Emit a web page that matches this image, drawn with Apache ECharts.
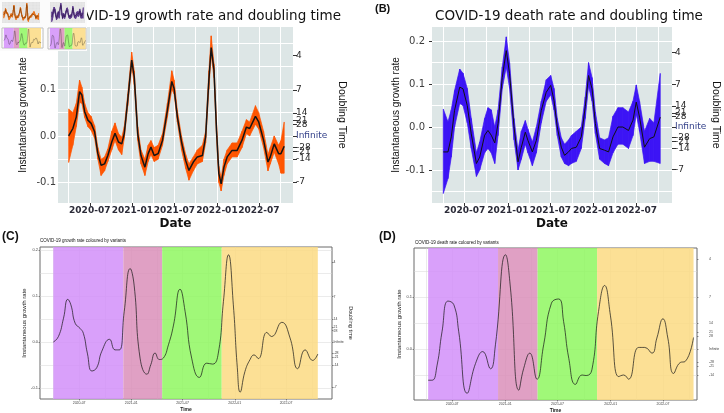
<!DOCTYPE html>
<html>
<head>
<meta charset="utf-8">
<script src="https://cdn.jsdelivr.net/npm/echarts@6/dist/echarts.min.js"></script>
<style>
  html, body { margin: 0; padding: 0; background: #fff; }
  #chart { width: 724px; height: 413px; }
</style>
</head>
<body>
<div id="chart"></div>
<script>
"use strict";

// ---------- growth rate (panel A): centre line and ribbon ----------
const growthDates = [
  "2020-04-01", "2020-04-19", "2020-05-04", "2020-05-18", "2020-05-28", "2020-06-09", "2020-06-23", "2020-07-07",
  "2020-07-22", "2020-08-05", "2020-08-19", "2020-09-03", "2020-09-17", "2020-10-04", "2020-10-18", "2020-11-02",
  "2020-11-16", "2020-11-27", "2020-12-12", "2020-12-29", "2021-01-09", "2021-01-24", "2021-02-07", "2021-02-24",
  "2021-03-10", "2021-03-22", "2021-04-05", "2021-04-22", "2021-05-11", "2021-06-01", "2021-06-20", "2021-06-30",
  "2021-07-14", "2021-08-01", "2021-08-19", "2021-09-02", "2021-09-21", "2021-10-08", "2021-10-30", "2021-11-13",
  "2021-11-27", "2021-12-07", "2021-12-19", "2021-12-30", "2022-01-09", "2022-01-19", "2022-01-31", "2022-02-14",
  "2022-03-07", "2022-03-29", "2022-04-19", "2022-05-08", "2022-05-22", "2022-06-16", "2022-06-30", "2022-07-21",
  "2022-08-09", "2022-08-19", "2022-09-05", "2022-09-24", "2022-10-04", "2022-10-18"
];
const growthMid = [
  0.000, 0.016, 0.041, 0.095, 0.088, 0.052, 0.034, 0.027, 0.009, -0.038,
  -0.063, -0.060, -0.042, -0.013, 0.006, -0.013, -0.017, 0.005, 0.077, 0.163,
  0.127, 0.005, -0.042, -0.067, -0.038, -0.024, -0.042, -0.038, -0.009, 0.055,
  0.117, 0.102, 0.041, -0.013, -0.053, -0.074, -0.056, -0.045, -0.042, -0.002,
  0.120, 0.190, 0.142, 0.012, -0.081, -0.103, -0.067, -0.045, -0.031, -0.031,
  -0.009, 0.019, 0.016, 0.042, 0.030, -0.009, -0.056, -0.045, -0.017, -0.038,
  -0.038, -0.022
];
const growthLow = [
  -0.057, -0.020, 0.020, 0.072, 0.070, 0.040, 0.020, 0.012, -0.005, -0.050,
  -0.085, -0.075, -0.055, -0.030, -0.010, -0.030, -0.040, -0.005, 0.065, 0.150,
  0.110, -0.010, -0.060, -0.085, -0.055, -0.040, -0.055, -0.050, -0.020, 0.040,
  0.100, 0.090, 0.030, -0.030, -0.070, -0.095, -0.075, -0.060, -0.055, -0.015,
  0.100, 0.175, 0.125, -0.005, -0.100, -0.118, -0.085, -0.060, -0.045, -0.045,
  -0.025, 0.005, 0.000, 0.025, 0.015, -0.025, -0.075, -0.060, -0.035, -0.060,
  -0.080, -0.080
];
const growthHigh = [
  0.058, 0.050, 0.070, 0.120, 0.105, 0.070, 0.050, 0.042, 0.022, -0.025,
  -0.050, -0.045, -0.028, 0.010, 0.028, 0.005, -0.003, 0.020, 0.090, 0.180,
  0.140, 0.020, -0.030, -0.050, -0.020, -0.010, -0.025, -0.020, 0.005, 0.070,
  0.140, 0.120, 0.055, 0.000, -0.040, -0.060, -0.045, -0.030, -0.020, 0.010,
  0.140, 0.215, 0.155, 0.030, -0.065, -0.090, -0.050, -0.030, -0.015, -0.015,
  0.010, 0.035, 0.030, 0.065, 0.050, 0.010, -0.040, -0.025, 0.000, -0.020,
  -0.010, 0.030
];

// ---------- death rate (panel B) ----------
const deathDates = [
  "2020-04-01", "2020-04-21", "2020-05-05", "2020-05-19", "2020-06-10", "2020-06-24", "2020-07-12", "2020-07-29",
  "2020-08-20", "2020-09-03", "2020-09-24", "2020-10-08", "2020-10-22", "2020-11-06", "2020-11-20", "2020-12-08",
  "2020-12-25", "2021-01-08", "2021-01-27", "2021-02-13", "2021-02-27", "2021-03-16", "2021-03-27", "2021-04-15",
  "2021-05-02", "2021-05-23", "2021-06-13", "2021-07-02", "2021-07-16", "2021-07-30", "2021-08-16", "2021-08-30",
  "2021-09-16", "2021-09-28", "2021-10-19", "2021-11-09", "2021-11-26", "2021-12-10", "2021-12-25", "2022-01-08",
  "2022-01-26", "2022-02-16", "2022-03-05", "2022-03-24", "2022-04-14", "2022-05-05", "2022-05-29", "2022-06-17",
  "2022-07-01", "2022-07-15", "2022-08-05", "2022-08-27", "2022-09-14", "2022-10-11"
];
const deathMid = [
  -0.058, -0.058, -0.023, 0.039, 0.093, 0.089, 0.050, -0.016, -0.085, -0.070,
  -0.019, -0.008, -0.019, -0.037, 0.008, 0.116, 0.178, 0.124, 0.000, -0.081,
  -0.047, -0.012, -0.031, -0.058, -0.031, 0.039, 0.081, 0.097, 0.062, 0.000,
  -0.047, -0.066, -0.058, -0.050, -0.047, -0.023, 0.047, 0.120, 0.089, 0.008,
  -0.050, -0.054, -0.058, -0.023, 0.000, 0.000, -0.008, 0.016, 0.058, 0.023,
  -0.047, -0.027, -0.023, 0.023
];
const deathLow = [
  -0.155, -0.120, -0.070, 0.000, 0.055, 0.050, 0.010, -0.050, -0.115, -0.100,
  -0.060, -0.050, -0.060, -0.085, -0.020, 0.090, 0.140, 0.090, -0.030, -0.100,
  -0.075, -0.040, -0.060, -0.090, -0.060, 0.010, 0.060, 0.075, 0.040, -0.020,
  -0.070, -0.085, -0.090, -0.085, -0.080, -0.050, 0.020, 0.095, 0.060, -0.015,
  -0.075, -0.085, -0.090, -0.060, -0.040, -0.040, -0.050, -0.020, 0.030, -0.010,
  -0.085, -0.080, -0.080, -0.085
];
const deathHigh = [
  0.042, 0.012, 0.040, 0.085, 0.135, 0.125, 0.090, 0.020, -0.060, -0.035,
  0.020, 0.045, 0.040, 0.000, 0.040, 0.140, 0.210, 0.150, 0.020, -0.055,
  -0.010, 0.015, -0.005, -0.035, 0.000, 0.060, 0.110, 0.120, 0.090, 0.020,
  -0.025, -0.040, -0.030, -0.020, -0.010, 0.000, 0.070, 0.150, 0.115, 0.035,
  -0.025, -0.030, -0.025, 0.025, 0.045, 0.045, 0.035, 0.060, 0.098, 0.060,
  -0.010, 0.020, 0.010, 0.125
];

// ---------- smoothed curves (panels C and D) ----------
const growthSmoothDates = [
  "2020-04-01", "2020-04-19", "2020-05-07", "2020-05-22", "2020-06-02", "2020-06-17", "2020-07-04", "2020-07-16",
  "2020-07-30", "2020-08-15", "2020-09-01", "2020-09-19", "2020-10-16", "2020-11-05", "2020-11-20", "2020-12-07",
  "2020-12-28", "2021-01-11", "2021-02-01", "2021-02-25", "2021-03-11", "2021-03-26", "2021-04-10", "2021-04-24",
  "2021-05-12", "2021-05-30", "2021-06-22", "2021-07-10", "2021-08-02", "2021-08-29", "2021-09-24", "2021-10-15",
  "2021-11-04", "2021-11-22", "2021-12-10", "2021-12-27", "2022-01-10", "2022-01-20", "2022-02-06", "2022-02-24",
  "2022-03-10", "2022-03-25", "2022-04-24", "2022-05-11", "2022-06-16", "2022-07-15", "2022-08-11", "2022-09-06",
  "2022-10-03", "2022-10-21"
];
const growthSmooth = [
  0.000, 0.012, 0.052, 0.093, 0.081, 0.041, 0.030, 0.019, -0.024, -0.063,
  -0.056, -0.020, 0.006, -0.017, -0.017, 0.066, 0.160, 0.124, -0.035, -0.070,
  -0.049, -0.024, -0.038, -0.035, -0.006, 0.037, 0.115, 0.066, -0.035, -0.077,
  -0.046, -0.048, -0.024, 0.088, 0.190, 0.081, -0.056, -0.109, -0.064, -0.038,
  -0.028, -0.036, 0.021, 0.012, 0.043, 0.009, -0.058, -0.017, -0.040, -0.026
];
const deathSmoothDates = [
  "2020-04-09", "2020-04-23", "2020-05-10", "2020-05-27", "2020-06-17", "2020-07-07", "2020-07-24", "2020-08-22",
  "2020-09-20", "2020-10-15", "2020-11-11", "2020-11-28", "2021-01-02", "2021-01-19", "2021-02-17", "2021-03-06",
  "2021-03-27", "2021-04-21", "2021-05-14", "2021-06-10", "2021-07-05", "2021-07-22", "2021-08-09", "2021-09-01",
  "2021-09-24", "2021-10-08", "2021-10-28", "2021-11-20", "2021-12-11", "2021-12-31", "2022-01-29", "2022-02-15",
  "2022-03-04", "2022-04-08", "2022-04-29", "2022-05-24", "2022-06-10", "2022-07-01", "2022-07-18", "2022-08-07",
  "2022-08-30", "2022-09-16", "2022-10-15"
];
const deathSmooth = [
  -0.060, -0.060, -0.031, 0.033, 0.092, 0.085, 0.033, -0.085, -0.028, -0.005,
  -0.038, 0.008, 0.181, 0.117, -0.079, -0.037, -0.008, -0.058, 0.008, 0.088,
  0.096, 0.053, -0.018, -0.068, -0.050, -0.051, -0.040, 0.072, 0.122, 0.065,
  -0.053, -0.050, -0.058, 0.003, 0.003, -0.008, 0.021, 0.058, 0.021, -0.047,
  -0.026, -0.024, 0.022
];

// variant periods: wild type, Alpha, Delta, Omicron
const variantNames = ["Wild type", "Alpha", "Delta", "Omicron"];
const growthVariantEdges = ["2020-04-01", "2020-12-04", "2021-04-20", "2021-11-16", "2022-10-21"];
const deathVariantEdges = ["2020-04-09", "2020-12-07", "2021-04-23", "2021-11-15", "2022-10-15"];

// axis ticks
const dateTicks = ["2020-07-01", "2021-01-01", "2021-07-01", "2022-01-01", "2022-07-01"];
const quarterTicks = [
  "2020-01-01", "2020-04-01", "2020-07-01", "2020-10-01", "2021-01-01", "2021-04-01", "2021-07-01",
  "2021-10-01", "2022-01-01", "2022-04-01", "2022-07-01", "2022-10-01", "2023-01-01"
];
const rateTicks = [-0.1, 0, 0.1, 0.2];
const rateGridTicks = [-0.15, -0.1, -0.05, 0, 0.05, 0.1, 0.15, 0.2];
const doublingTicks = [4, 7, 14, 21, 28, "Infinite", -28, -21, -14, -7];

// colours
const variantColors = ["#d28ff9", "#da8fba", "#8ff760", "#fbda83"];
const growthRibbon = "#ff5500";
const deathRibbon = "#3c14f5";

// ---------- helpers ----------
function day(s) {
  const p = s.split("-").map(Number);
  return new Date(p[0], p[1] - 1, p[2]).getTime();
}
function pairs(dates, vals) {
  return dates.map((d, i) => [day(d), vals[i]]);
}
function ym(v) {
  const d = new Date(v);
  return d.getFullYear() + "-" + String(d.getMonth() + 1).padStart(2, "0");
}
// doubling time T sits at growth rate ln2 / T on the shared scale
function doublingPos(t) {
  return typeof t === "number" ? Math.LN2 / t : 0;
}
function doublingLabel(v) {
  for (const t of doublingTicks) {
    if (Math.abs(doublingPos(t) - v) < 1e-9) return t === "Infinite" ? "{inf|Infinite}" : String(t);
  }
  return "";
}

const DEJA = "DejaVu Sans";
const LIB = "Liberation Sans";

const grids = [], xAxes = [], yAxes = [], series = [];

function addPanel(p) {
  const gi = grids.length;
  const xmin = day(p.xRange[0]), xmax = day(p.xRange[1]);
  const ymin = p.yRange[0], ymax = p.yRange[1];
  const inX = list => list.map(day).filter(v => v >= xmin && v <= xmax);
  const inY = list => list.filter(v => v >= ymin - 1e-9 && v <= ymax + 1e-9);
  const s = p.style;
  const z = p.z || 0;

  grids.push({
    left: p.box[0], top: p.box[1], width: p.box[2], height: p.box[3],
    show: true, backgroundColor: p.bg,
    borderWidth: p.frame ? 1 : 0, borderColor: p.frame || "transparent",
    z: z, outerBoundsMode: "none"
  });

  // dates are kept as timestamps on a value axis
  const xi = xAxes.length;
  xAxes.push({
    type: "value", gridIndex: gi, min: xmin, max: xmax, position: "bottom", z: z,
    axisLine: { show: false, onZero: false },
    axisTick: {
      show: !!s, customValues: inX(dateTicks), length: s ? s.xTick : 0,
      lineStyle: { color: "#333", width: s ? s.tickW : 1 }
    },
    axisLabel: s ? Object.assign({ customValues: inX(dateTicks), formatter: ym, margin: s.xMargin }, s.xLabel) : { show: false },
    splitLine: { show: false },
    name: s ? s.xName : "", nameLocation: "middle", nameGap: s ? s.xNameGap : 0,
    nameTextStyle: s ? s.xNameStyle : {}
  });
  // second x axis only carries the vertical grid lines
  xAxes.push({
    type: "value", gridIndex: gi, min: xmin, max: xmax, position: "top", z: z,
    axisLine: { show: false, onZero: false },
    axisTick: { show: false, customValues: inX(quarterTicks) },
    axisLabel: { show: false },
    splitLine: { show: true, lineStyle: { color: p.gridColor, width: p.gridWidth } }
  });

  const yi = yAxes.length;
  yAxes.push({
    type: "value", gridIndex: gi, min: ymin, max: ymax, position: "left", z: z,
    axisLine: { show: false, onZero: false },
    axisTick: {
      show: !!(s && s.yTick), customValues: inY(rateTicks), length: s ? s.yTick : 0,
      lineStyle: { color: "#333", width: s ? s.tickW : 1 }
    },
    axisLabel: s ? Object.assign({
      customValues: inY(rateTicks), formatter: v => v.toFixed(1), margin: s.yMargin
    }, s.yLabel) : { show: false },
    splitLine: { show: false },
    name: s ? "Instantaneous growth rate" : "", nameLocation: "middle", nameGap: s ? s.yNameGap : 0,
    nameTextStyle: s ? s.yNameStyle : {}
  });
  yAxes.push({
    type: "value", gridIndex: gi, min: ymin, max: ymax, position: "right", z: z,
    axisLine: { show: false, onZero: false },
    axisTick: {
      show: !!s, customValues: inY(doublingTicks.map(doublingPos)), length: s ? s.rTick : 0,
      lineStyle: { color: "#333", width: s ? s.tickW : 1 }
    },
    axisLabel: s ? Object.assign({
      customValues: inY(doublingTicks.map(doublingPos)), formatter: doublingLabel, margin: s.rMargin
    }, s.rLabel) : { show: false },
    splitLine: { show: false },
    name: s ? s.rName : "", nameLocation: "middle", nameRotate: -90, nameGap: s ? s.rNameGap : 0,
    nameTextStyle: s ? s.rNameStyle : {}
  });
  // third y axis only carries the horizontal grid lines
  yAxes.push({
    type: "value", gridIndex: gi, min: ymin, max: ymax, position: "left", z: z,
    axisLine: { show: false, onZero: false },
    axisTick: { show: false, customValues: inY(rateGridTicks) },
    axisLabel: { show: false },
    splitLine: { show: true, lineStyle: { color: p.gridColor, width: p.gridWidth } }
  });
  return { xi: xi, yi: yi, z: z };
}

// ribbon between the lower and upper bound, drawn piece by piece with the axes' coord()
function addRibbon(ax, dates, lo, hi, mid, fill, lineColor, lineW) {
  const pts = dates.map((d, i) => [day(d), lo[i], hi[i]]);
  series.push({
    type: "custom", xAxisIndex: ax.xi, yAxisIndex: ax.yi, z: ax.z + 2, silent: true,
    data: pts, encode: { x: 0, y: [1, 2] },
    renderItem: function (params, api) {
      const i = params.dataIndex;
      if (i >= pts.length - 1) return null;
      const a = pts[i], b = pts[i + 1];
      return {
        type: "polygon",
        shape: { points: [api.coord([a[0], a[1]]), api.coord([b[0], b[1]]), api.coord([b[0], b[2]]), api.coord([a[0], a[2]])] },
        style: { fill: fill, stroke: fill, lineWidth: 0.7 }
      };
    }
  });
  series.push({
    type: "line", xAxisIndex: ax.xi, yAxisIndex: ax.yi, z: ax.z + 3, symbol: "none", silent: true,
    data: pairs(dates, mid), lineStyle: { color: lineColor, width: lineW }
  });
}

function addVariants(ax, dates, vals, edges, lineW) {
  const base = { type: "line", xAxisIndex: ax.xi, yAxisIndex: ax.yi, symbol: "none", silent: true };
  series.push(Object.assign({}, base, {
    z: ax.z + 1, data: pairs(dates, vals), lineStyle: { opacity: 0 },
    markArea: {
      silent: true, z: ax.z + 1,
      data: variantNames.map((n, i) => [
        { name: "", xAxis: day(edges[i]), itemStyle: { color: variantColors[i], opacity: 0.85 } },
        { xAxis: day(edges[i + 1]) }
      ])
    }
  }));
  series.push(Object.assign({}, base, {
    z: ax.z + 3, smooth: true, data: pairs(dates, vals),
    lineStyle: { color: "rgba(25,25,25,0.8)", width: lineW }
  }));
}

// ---------- styles ----------
function bigStyle(yMargin, yTick, yNameGap, rNameGap) {
  return {
    tickW: 1, xTick: 3, yTick: yTick, rTick: 4,
    xMargin: 3, yMargin: yMargin, rMargin: 3,
    xLabel: { fontFamily: DEJA, fontSize: 9, fontWeight: "bold", color: "#2b2b38" },
    yLabel: { fontFamily: DEJA, fontSize: 10, color: "#3d3d3d" },
    rLabel: {
      fontFamily: DEJA, fontSize: 9, color: "#2b2b2b",
      rich: { inf: { fontFamily: DEJA, fontSize: 9, color: "#34418a" } }
    },
    xName: "Date", xNameGap: 15,
    xNameStyle: { fontFamily: DEJA, fontSize: 12, fontWeight: "bold", color: "#111" },
    yNameGap: yNameGap, yNameStyle: { fontFamily: LIB, fontSize: 10, color: "#111" },
    rName: "Doubling Time", rNameGap: rNameGap,
    rNameStyle: { fontFamily: LIB, fontSize: 10.5, color: "#111" }
  };
}
function smallStyle(yNameGap, rMargin, rNameGap) {
  return {
    tickW: 0.5, xTick: 1.5, yTick: 1.5, rTick: 1.5,
    xMargin: 2.5, yMargin: 2, rMargin: rMargin,
    xLabel: { fontFamily: LIB, fontSize: 3.5, color: "#444" },
    yLabel: { fontFamily: LIB, fontSize: 4, color: "#444" },
    rLabel: {
      fontFamily: LIB, fontSize: 3.5, color: "#444",
      rich: { inf: { fontFamily: LIB, fontSize: 3.5, color: "#444" } }
    },
    xName: "Time", xNameGap: 8,
    xNameStyle: { fontFamily: LIB, fontSize: 5, fontWeight: "bold", color: "#222" },
    yNameGap: yNameGap, yNameStyle: { fontFamily: LIB, fontSize: 6, color: "#222" },
    rName: "Doubling time", rNameGap: rNameGap,
    rNameStyle: { fontFamily: LIB, fontSize: 5.5, color: "#222" }
  };
}

// ---------- panels ----------
const axA = addPanel({
  box: [58, 27, 235, 176], xRange: ["2020-02-15", "2022-11-25"], yRange: [-0.144, 0.234],
  bg: "#dde6e6", gridColor: "#ffffff", gridWidth: 1, style: bigStyle(2, 0, 30, 43)
});
addRibbon(axA, growthDates, growthLow, growthHigh, growthMid, growthRibbon, "#151515", 1.5);

const axB = addPanel({
  box: [432, 27, 240, 176], xRange: ["2020-02-13", "2022-11-30"], yRange: [-0.177, 0.233],
  bg: "#dde6e6", gridColor: "#ffffff", gridWidth: 1, style: bigStyle(7, 3, 28, 38)
});
addRibbon(axB, deathDates, deathLow, deathHigh, deathMid, deathRibbon, "#111", 1);

const axC = addPanel({
  box: [40, 247, 292, 152], xRange: ["2020-02-14", "2022-12-10"], yRange: [-0.124, 0.207],
  bg: "#ffffff", frame: "#6b6b6b", gridColor: "#d6d6d6", gridWidth: 0.5, style: smallStyle(7.5, 1.5, 11)
});
addVariants(axC, growthSmoothDates, growthSmooth, growthVariantEdges, 0.9);

const axD = addPanel({
  box: [414, 248, 283, 152], xRange: ["2020-02-20", "2022-10-27"], yRange: [-0.098, 0.194],
  bg: "#ffffff", frame: "#6b6b6b", gridColor: "#d6d6d6", gridWidth: 0.5, style: smallStyle(8.5, 12, 21)
});
addVariants(axD, deathSmoothDates, deathSmooth, deathVariantEdges, 0.9);

// thumbnails of the whole figure in the top-left corner
const miniA = addPanel({
  box: [2, 2, 38, 21], xRange: ["2020-02-15", "2022-11-25"], yRange: [-0.144, 0.234],
  bg: "#e2e2e2", gridColor: "#f4f4f4", gridWidth: 0.3, z: 4
});
addRibbon(miniA, growthDates, growthLow, growthHigh, growthMid, "#e8741c", "#5a2a00", 0.5);
const miniB = addPanel({
  box: [50, 2, 35, 21], xRange: ["2020-02-13", "2022-11-30"], yRange: [-0.177, 0.233],
  bg: "#e2e2e2", gridColor: "#f4f4f4", gridWidth: 0.3, z: 4
});
addRibbon(miniB, deathDates, deathLow, deathHigh, deathMid, "#5b3a8c", "#2a1540", 0.5);
const miniC = addPanel({
  box: [2, 28, 41, 20], xRange: ["2020-02-14", "2022-12-10"], yRange: [-0.124, 0.207],
  bg: "#ffffff", frame: "#bbbbbb", gridColor: "#eeeeee", gridWidth: 0.3, z: 4
});
addVariants(miniC, growthSmoothDates, growthSmooth, growthVariantEdges, 0.4);
const miniD = addPanel({
  box: [48, 28, 38, 21], xRange: ["2020-02-20", "2022-10-27"], yRange: [-0.098, 0.194],
  bg: "#ffffff", frame: "#bbbbbb", gridColor: "#eeeeee", gridWidth: 0.3, z: 4
});
addVariants(miniD, deathSmoothDates, deathSmooth, deathVariantEdges, 0.4);

// ---------- titles and panel letters ----------
const graphics = [
  { type: "text", z: 0, x: 2, y: 9, style: { text: "(A)", font: "bold 11px " + LIB, fill: "#111", verticalAlign: "middle" } },
  {
    type: "text", z: 0, x: 341, y: 16,
    style: { text: "COVID-19 growth rate and doubling time", font: "13.5px " + DEJA, fill: "#111", align: "right", verticalAlign: "middle" }
  },
  {
    type: "text", z: 0, x: 569, y: 16,
    style: { text: "COVID-19 death rate and doubling time", font: "13.5px " + DEJA, fill: "#111", align: "center", verticalAlign: "middle" }
  },
  { type: "text", z: 0, x: 375, y: 9, style: { text: "(B)", font: "bold 11px " + LIB, fill: "#111", verticalAlign: "middle" } },
  { type: "text", z: 0, x: 2, y: 237, style: { text: "(C)", font: "bold 12px " + LIB, fill: "#111", verticalAlign: "middle" } },
  { type: "text", z: 0, x: 379, y: 237, style: { text: "(D)", font: "bold 12px " + LIB, fill: "#111", verticalAlign: "middle" } },
  {
    type: "text", z: 0, x: 40, y: 241,
    style: { text: "COVID-19 growth rate coloured by variants", font: "4.5px " + LIB, fill: "#111", verticalAlign: "middle" }
  },
  {
    type: "text", z: 0, x: 415, y: 243,
    style: { text: "COVID-19 death rate coloured by variants", font: "4.5px " + LIB, fill: "#111", verticalAlign: "middle" }
  },
  // white card behind the thumbnails
  { type: "rect", z: 1, shape: { x: 0, y: 0, width: 87, height: 51 }, style: { fill: "#fbfbfb" } }
];

const chart = echarts.init(document.getElementById("chart"), null, { renderer: "canvas" });
chart.setOption({
  animation: false,
  backgroundColor: "#ffffff",
  grid: grids,
  xAxis: xAxes,
  yAxis: yAxes,
  series: series,
  graphic: { elements: graphics }
});
</script>
</body>
</html>
